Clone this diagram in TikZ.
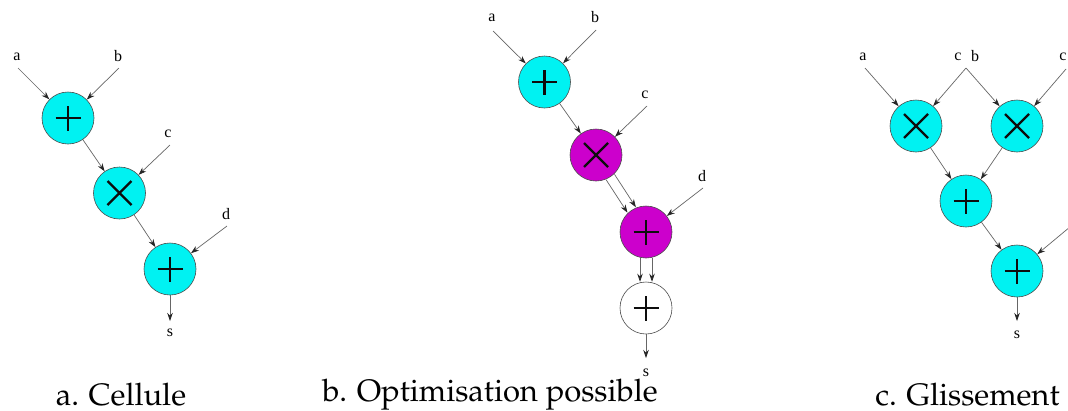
\documentclass[tikz,border=0pt]{standalone}
\usepackage[T1]{fontenc}
\usepackage{fontspec}
\usetikzlibrary{arrows.meta}
\newfontfamily\labfont{Liberation Serif}
\newcommand\capfont{\fontencoding{T1}\fontfamily{ppl}\fontsize{31}{36}\selectfont}
\definecolor{cy}{RGB}{0,242,242}
\definecolor{mg}{RGB}{204,0,204}
\tikzset{
  op/.style={circle, draw=black!70, line width=0.6pt, minimum size=52pt, inner sep=0pt},
  plusop/.style={op, path picture={\draw[draw=black!95, line width=2.4pt]
      ([xshift=-12.5pt]path picture bounding box.center) -- ([xshift=12.5pt]path picture bounding box.center)
      ([yshift=-12.5pt]path picture bounding box.center) -- ([yshift=12.5pt]path picture bounding box.center);}},
  timesop/.style={op, path picture={\draw[draw=black!95, line width=2.4pt]
      ([xshift=-12pt,yshift=-12pt]path picture bounding box.center) -- ([xshift=12pt,yshift=12pt]path picture bounding box.center)
      ([xshift=-12pt,yshift=12pt]path picture bounding box.center) -- ([xshift=12pt,yshift=-12pt]path picture bounding box.center);}},
  lbl/.style={font=\labfont\fontsize{16}{18}\selectfont, inner sep=0pt},
  captext/.style={font=\capfont, inner sep=0pt, anchor=base},
  arr/.style={draw=black!60, line width=0.7pt, -{Stealth[length=8pt,width=5.5pt,color=black!85]}}
}
\begin{document}
\begin{tikzpicture}[x=1pt,y=-1pt]
\useasboundingbox (0,0) rectangle (1068,410);
\fill[white] (0,0) rectangle (1068,410);

% ---------- panel a ----------
\node[plusop, fill=cy] (n1) at (68,118) {};
\node[timesop, fill=cy] (n2) at (119.5,193) {};
\node[plusop, fill=cy] (n3) at (170,269) {};
\node[lbl] (la) at (17,57) {a};
\node[lbl] (lb) at (118,56) {b};
\node[lbl] (lc) at (168,134) {c};
\node[lbl] (ld) at (226,214) {d};
\node[lbl] (ls) at (170,333) {s};
\coordinate (a0) at (18,68);
\coordinate (b0) at (119,68);
\coordinate (c0) at (170,145);
\coordinate (d0) at (227,226);
\coordinate (s0) at (170,321);
\draw[arr] (a0) -- (n1);
\draw[arr] (b0) -- (n1);
\draw[arr] (n1) -- (n2);
\draw[arr] (c0) -- (n2);
\draw[arr] (n2) -- (n3);
\draw[arr] (d0) -- (n3);
\draw[arr] (n3) -- (s0);

% ---------- panel b ----------
\node[plusop, fill=cy] (m1) at (544.5,82) {};
\node[timesop, fill=mg] (m2) at (596,155) {};
\node[plusop, fill=mg] (m3) at (646,232) {};
\node[plusop, fill=white] (m4) at (646,308) {};
\node[lbl] (ma) at (492,18) {a};
\node[lbl] (mb) at (595,17) {b};
\node[lbl] (mc) at (645,95) {c};
\node[lbl] (md) at (702,176) {d};
\node[lbl] (ms) at (646,373) {s};
\coordinate (ma0) at (493,31);
\coordinate (mb0) at (596,30);
\coordinate (mc0) at (647,106);
\coordinate (md0) at (703,188);
\coordinate (ms0) at (646,358);
\draw[arr] (ma0) -- (m1);
\draw[arr] (mb0) -- (m1);
\draw[arr] (m1) -- (m2);
\draw[arr] (mc0) -- (m2);
\draw[arr, transform canvas={shift={(-4.2pt,-2.7pt)}}] (m2) -- (m3);
\draw[arr, transform canvas={shift={(4.2pt,2.7pt)}}] (m2) -- (m3);
\draw[arr] (md0) -- (m3);
\draw[arr, transform canvas={shift={(-6pt,0pt)}}] (m3) -- (m4);
\draw[arr, transform canvas={shift={(6pt,0pt)}}] (m3) -- (m4);
\draw[arr] (m4) -- (ms0);

% ---------- panel c ----------
\node[timesop, fill=cy] (x1) at (916,126) {};
\node[timesop, fill=cy] (x2) at (1017,126) {};
\node[plusop, fill=cy] (p1) at (966,201) {};
\node[plusop, fill=cy] (p2) at (1017,271) {};
\node[lbl] (ka) at (863,57) {a};
\node[lbl] (kc) at (958,57) {c};
\node[lbl] (kb) at (975,56) {b};
\node[lbl] (kc2) at (1063,57) {c};
\node[lbl] (ks) at (1017,335) {s};
\coordinate (ka0) at (865,68);
\coordinate (kcb) at (966,68);
\coordinate (kc20) at (1066,69);
\coordinate (kd0) at (1094,207);
\coordinate (ks0) at (1017,321);
\draw[arr] (ka0) -- (x1);
\draw[arr] (kcb) -- (x1);
\draw[arr] (kcb) -- (x2);
\draw[arr] (kc20) -- (x2);
\draw[arr] (x1) -- (p1);
\draw[arr] (x2) -- (p1);
\draw[arr] (p1) -- (p2);
\draw[arr] (kd0) -- (p2);
\draw[arr] (p2) -- (ks0);

% ---------- captions ----------
\node[captext] (capa) at (121,405) {a. Cellule};
\node[captext] (capb) at (490,401) {b. Optimisation possible};
\node[captext] (capc) at (967.5,405) {c. Glissement};
\end{tikzpicture}
\end{document}
